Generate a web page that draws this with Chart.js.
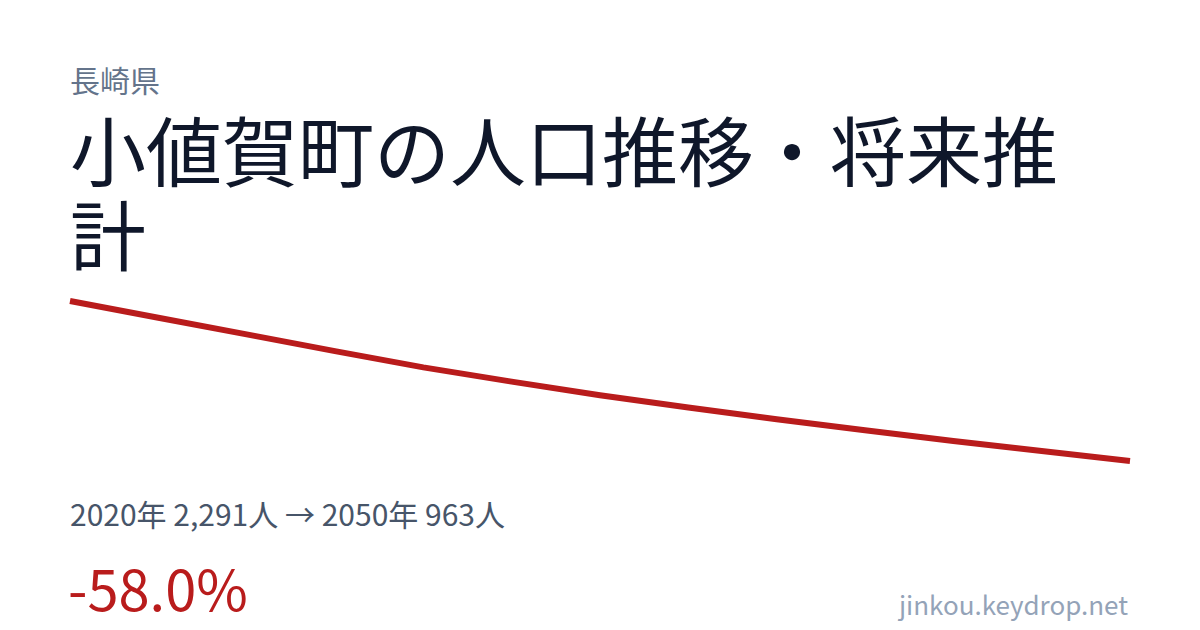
<!DOCTYPE html>
<html lang="ja">
<head>
<meta charset="utf-8">
<script src="https://cdn.jsdelivr.net/npm/chart.js@4"></script>
<style>
	html, body {
		margin: 0;
		padding: 0;
		background: #ffffff;
	}
	body {
		width: 1200px;
		height: 630px;
		position: relative;
		overflow: hidden;
		font-family: "Noto Sans CJK JP", "Noto Sans", sans-serif;
	}
	#pref {
		position: absolute;
		left: 70px;
		top: 59px;
		font-size: 30px;
		line-height: 40px;
		color: #64748b;
	}
	#title {
		position: absolute;
		left: 70px;
		top: 106px;
		width: 1060px;
		font-size: 76px;
		line-height: 84px;
		color: #0f172a;
	}
	#chartBox {
		position: absolute;
		left: 60px;
		top: 290px;
		width: 1080px;
		height: 181px;
	}
	#summary {
		position: absolute;
		left: 70px;
		top: 493px;
		font-size: 30px;
		line-height: 40px;
		color: #475569;
	}
	#change {
		position: absolute;
		left: 68px;
		top: 552px;
		font-size: 56px;
		line-height: 70px;
		color: #b91c1c;
	}
	#site {
		position: absolute;
		right: 72px;
		top: 586px;
		font-size: 26px;
		line-height: 36px;
		color: #94a3b8;
	}
</style>
</head>
<body>
<div id="pref">長崎県</div>
<div id="title">小値賀町の人口推移・将来推計</div>
<div id="chartBox"><canvas id="popChart"></canvas></div>
<div id="summary">2020年 2,291人 → 2050年 963人</div>
<div id="change">-58.0%</div>
<div id="site">jinkou.keydrop.net</div>

<script>
	// 年と人口（2020年は実績、以降は推計）
	const years = ["2020", "2025", "2030", "2035", "2040", "2045", "2050"];
	const population = [2291, 2014, 1740, 1509, 1310, 1129, 963];

	const data = {
		labels: years,
		datasets: [
			{
				data: population,
				borderColor: "#b91c1c",
				borderWidth: 6,
				borderCapStyle: "butt",
				pointRadius: 0,
				tension: 0.2,
				fill: false,
				clip: false,
			},
		],
	};

	const config = {
		type: "line",
		data: data,
		options: {
			responsive: true,
			maintainAspectRatio: false,
			animation: false,
			layout: {
				padding: { left: 10, right: 10, top: 11, bottom: 10 },
			},
			scales: {
				x: { display: false },
				y: {
					display: false,
					min: Math.min(...population),
					max: Math.max(...population),
				},
			},
			plugins: {
				legend: false,
				tooltip: { enabled: false },
			},
		},
	};

	const popChart = new Chart(document.getElementById("popChart"), config);
</script>
</body>
</html>
